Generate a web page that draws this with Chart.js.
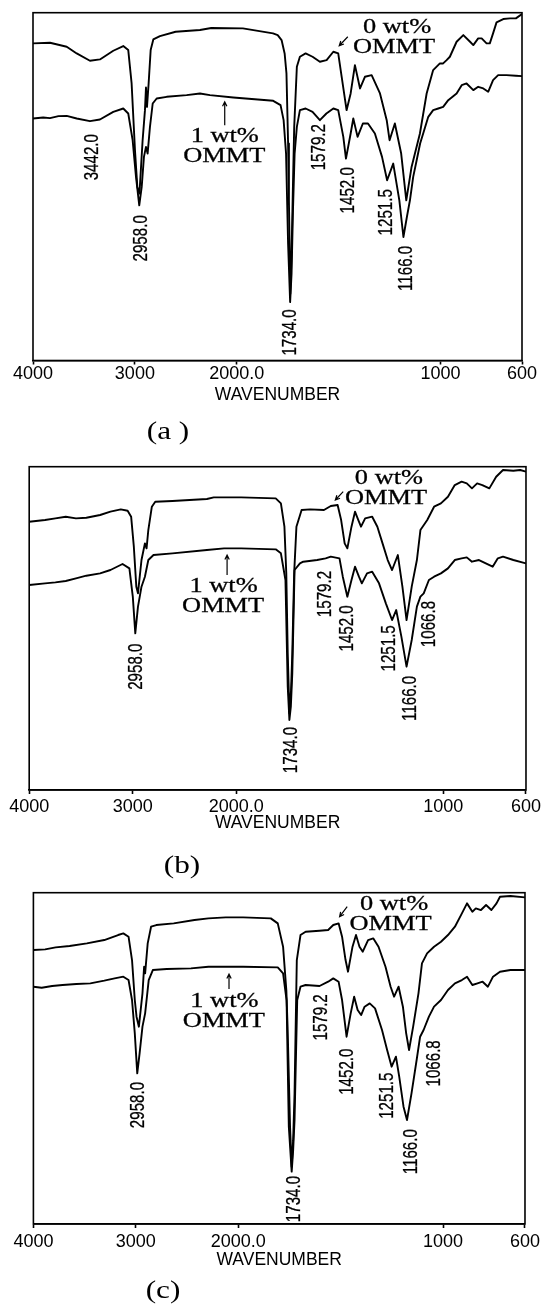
<!DOCTYPE html>
<html>
<head>
<meta charset="utf-8">
<script src="https://cdn.jsdelivr.net/npm/chart.js@4.4.1/dist/chart.umd.min.js"></script>
<style>
  html, body { margin: 0; padding: 0; background: #fff; width: 545px; height: 1308px; overflow: hidden; }
  canvas { position: absolute; left: 0; }
  .tag { position: absolute; width: 100px; text-align: center; line-height: 30px;
         font-family: "Liberation Serif", serif; font-size: 25px; color: #000; transform: scaleX(1.25); }
</style>
</head>
<body>
<canvas id="panelA" width="545" height="410" style="top:0px"></canvas>
<canvas id="panelB" width="545" height="410" style="top:440px"></canvas>
<canvas id="panelC" width="545" height="410" style="top:870px"></canvas>
<div class="tag" style="left:118px;top:416px">(a )</div>
<div class="tag" style="left:132px;top:850px">(b)</div>
<div class="tag" style="left:113px;top:1275px">(c)</div>
<script>
// x axis: wavenumber, scale doubles below 2000 cm-1
const tickWavenumbers = [4000, 3000, 2000, 1000, 600];
const tickLabels = ['4000', '3000', '2000.0', '1000', '600'];

// spectra as [wavenumber, transmittance (arb.)]
const a0 = [[4000,95.0],[3833,95.2],[3669,94.0],[3571,92.0],[3441,89.8],[3343,90.2],[3212,92.8],[3114,94.2],[3065,93.0],
  [3032,83.0],[2999,63.0],[2976,52.0],[2955,50.0],[2924,66.0],[2901,75.0],[2891,81.8],[2881,76.0],[2865,83.0],[2845,93.0],
  [2819,96.2],[2754,97.2],[2600,98.5],[2361,99.0],[2250,99.6],[1970,99.5],[1822,98.0],[1799,97.5],[1780,96.0],[1765,92.0],
  [1756,86.0],[1748,65.0],[1744,48.0],[1737,20.0],[1731,32.0],[1725,50.0],[1718,70.0],[1705,88.0],[1690,91.0],[1662,92.0],
  [1628,91.0],[1592,89.5],[1559,90.0],[1526,92.5],[1502,92.0],[1485,85.0],[1461,75.0],[1441,80.0],[1420,88.5],[1395,81.5],
  [1371,85.0],[1338,85.5],[1297,80.0],[1264,72.0],[1250,66.0],[1224,71.0],[1193,62.0],[1168,48.0],[1142,58.0],[1101,68.0],
  [1068,80.0],[1036,87.0],[1003,89.0],[987,89.0],[970,90.0],[954,91.0],[921,95.5],[888,97.5],[855,95.5],[839,94.5],
  [815,96.5],[798,96.5],[774,95.0],[758,95.0],[742,98.0],[725,101.3],[692,102.3],[659,102.5],[630,102.5],[600,103.8]];
const a1 = [[4000,72.5],[3900,72.8],[3833,72.6],[3750,73.2],[3669,73.3],[3571,72.5],[3441,71.7],[3343,72.2],[3212,74.5],
  [3114,75.5],[3065,74.0],[3022,66.0],[2989,55.0],[2957,46.5],[2933,52.0],[2911,61.0],[2891,64.0],[2875,62.0],[2852,70.0],
  [2825,77.0],[2786,78.5],[2688,79.0],[2492,79.5],[2361,80.0],[2263,79.5],[2034,78.8],[1821,77.8],[1785,76.5],[1770,72.0],
  [1758,62.0],[1748,35.0],[1738,17.5],[1731,26.0],[1724,45.0],[1716,62.0],[1705,70.0],[1690,75.0],[1662,75.5],[1628,74.5],
  [1592,72.0],[1560,74.0],[1526,75.5],[1502,75.0],[1477,67.0],[1464,60.5],[1441,68.0],[1428,72.5],[1407,67.0],[1381,71.0],
  [1356,71.0],[1322,68.0],[1287,61.0],[1262,54.0],[1232,59.0],[1202,48.0],[1182,37.0],[1165,43.0],[1150,48.0],[1134,55.0],
  [1117,60.0],[1100,65.0],[1085,68.0],[1060,73.0],[1036,75.0],[1011,75.5],[987,76.0],[962,78.0],[921,80.0],[896,82.5],
  [872,83.0],[839,81.0],[815,82.0],[790,81.5],[766,80.5],[742,84.0],[717,85.5],[676,85.5],[630,85.3],[600,85.2]];

const b0 = [[4000,80.5],[3847,81.0],[3747,81.5],[3647,82.0],[3548,81.5],[3448,81.7],[3315,82.5],[3215,83.5],[3115,84.2],
  [3049,83.8],[3015,82.0],[2989,73.0],[2965,61.0],[2949,59.0],[2915,69.0],[2882,74.0],[2866,72.5],[2849,78.0],[2815,85.0],
  [2782,86.5],[2616,86.7],[2450,87.0],[2283,87.3],[2217,87.8],[1976,87.8],[1809,87.5],[1784,86.0],[1767,79.0],[1758,65.0],
  [1751,41.0],[1743,23.0],[1735,30.0],[1729,41.0],[1720,65.0],[1709,79.0],[1684,84.0],[1643,84.2],[1576,84.0],[1543,85.2],
  [1510,85.5],[1493,81.0],[1476,74.0],[1463,72.5],[1443,79.0],[1426,83.5],[1410,81.0],[1397,79.0],[1377,81.5],[1343,82.0],
  [1318,79.0],[1293,74.0],[1268,69.0],[1247,66.0],[1219,70.5],[1197,61.0],[1177,51.0],[1152,61.0],[1127,69.0],[1110,78.0],
  [1077,81.0],[1044,85.0],[1011,86.0],[977,88.0],[944,91.5],[911,92.5],[886,92.0],[861,90.5],[836,92.0],[811,91.5],
  [777,90.5],[744,94.0],[711,96.0],[661,95.8],[628,96.0],[600,95.5]];
const b1 = [[4000,61.5],[3847,62.0],[3747,62.3],[3647,62.7],[3548,63.5],[3448,64.3],[3315,65.0],[3215,66.0],[3098,67.8],
  [3032,66.5],[2999,58.0],[2975,47.0],[2949,55.0],[2915,61.0],[2882,64.0],[2849,69.0],[2799,70.5],[2616,71.0],[2283,72.0],
  [2117,72.5],[1976,72.5],[1809,72.2],[1784,71.0],[1762,63.0],[1751,31.0],[1743,21.0],[1736,25.0],[1729,35.0],[1718,66.0],
  [1692,68.0],[1676,68.5],[1609,69.0],[1568,69.5],[1543,70.0],[1501,69.5],[1485,64.0],[1463,58.0],[1443,63.0],[1426,67.0],
  [1407,64.0],[1393,62.0],[1368,65.0],[1343,65.5],[1310,62.0],[1277,56.0],[1247,51.0],[1227,54.0],[1202,46.0],[1177,37.0],
  [1152,45.0],[1127,55.0],[1110,58.0],[1094,59.0],[1069,63.0],[1044,64.0],[1011,65.0],[977,66.5],[944,69.0],[911,69.5],
  [886,69.8],[861,68.5],[827,69.0],[794,68.0],[761,67.0],[736,69.5],[711,70.0],[661,69.0],[600,68.0]];

const c0 = [[4000,82.2],[3885,82.4],[3783,83.0],[3647,83.4],[3478,84.2],[3308,85.2],[3173,86.7],[3122,87.2],[3071,86.2],
  [3037,79.2],[3010,67.2],[2993,62.2],[2970,59.2],[2935,69.2],[2919,77.2],[2909,75.2],[2884,84.2],[2851,89.2],[2800,89.7],
  [2630,90.2],[2427,91.2],[2291,91.7],[2122,92.0],[1976,92.0],[1841,91.7],[1807,90.2],[1781,83.2],[1765,70.0],[1759,59.2],
  [1747,29.2],[1739,17.2],[1732,25.0],[1725,39.2],[1714,79.2],[1696,86.7],[1671,87.7],[1603,88.0],[1561,88.2],[1536,89.7],
  [1510,90.2],[1493,86.2],[1476,79.2],[1464,75.7],[1442,83.2],[1425,86.7],[1408,83.2],[1392,81.7],[1366,85.2],[1341,85.7],
  [1315,83.2],[1281,77.2],[1256,71.2],[1239,68.2],[1217,71.2],[1196,65.2],[1180,57.2],[1166,52.2],[1146,59.2],[1120,69.2],
  [1103,78.2],[1078,81.2],[1044,83.2],[1010,84.7],[976,86.7],[942,89.2],[908,93.2],[883,96.2],[857,93.7],[840,94.7],
  [815,94.2],[790,95.7],[764,94.2],[739,96.2],[722,98.2],[671,98.4],[600,98.0]];
const c1 = [[4000,71.2],[3919,70.9],[3817,71.4],[3715,71.7],[3580,72.0],[3444,72.2],[3308,73.0],[3207,73.7],[3122,74.2],
  [3071,73.2],[3037,67.2],[3010,57.2],[2986,45.2],[2963,51.2],[2935,59.2],[2909,63.2],[2874,73.2],[2834,76.2],[2698,76.5],
  [2461,76.7],[2291,77.2],[1976,77.2],[1807,77.0],[1781,75.2],[1764,67.2],[1753,29.2],[1739,15.7],[1732,22.0],[1725,31.2],
  [1712,67.2],[1696,71.2],[1671,71.7],[1603,71.4],[1561,72.7],[1536,73.7],[1510,72.7],[1493,67.2],[1471,56.2],[1451,63.2],
  [1434,68.2],[1417,64.2],[1400,62.7],[1383,65.2],[1358,66.2],[1332,64.7],[1298,58.2],[1273,52.2],[1251,47.2],[1230,50.2],
  [1214,44.2],[1193,35.2],[1176,31.2],[1154,39.2],[1129,49.2],[1112,56.2],[1095,58.2],[1069,62.2],[1044,65.2],[1010,67.2],
  [976,70.2],[942,72.2],[908,73.2],[883,74.2],[857,71.7],[832,72.2],[807,72.7],[781,71.2],[756,74.2],[722,75.7],
  [671,76.2],[600,76.2]];

// peak labels: [text, wavenumber, transmittance at label centre]
const peaksA = [['3442.0',3417,60.9],['2958.0',2940,36.6],['1734.0',1736,8.4],['1579.2',1593,63.9],
  ['1452.0',1454,51.0],['1251.5',1265,44.4],['1166.0',1168,27.6]];
const peaksB = [['2958.0',2965,37.0],['1734.0',1734,12.0],['1579.2',1572,58.8],['1452.0',1465,48.5],
  ['1251.5',1262,42.5],['1166.0',1160,27.5],['1066.8',1068,49.8]];
const peaksC = [['2958.0',2976,35.7],['1734.0',1725,7.5],['1579.2',1595,62.0],['1452.0',1468,45.7],
  ['1251.5',1273,38.5],['1166.0',1154,21.7],['1066.8',1044,48.2]];

// sample notes: [text, wavenumber, transmittance at baseline]
const notesA = [['0 wt%',1213,98.2],['OMMT',1228,92.2],['1 wt%',2118,65.5],['OMMT',2122,59.5]];
const notesB = [['0 wt%',1262,91.8],['OMMT',1276,85.8],['1 wt%',2122,59.5],['OMMT',2126,53.5]];
const notesC = [['0 wt%',1239,94.2],['OMMT',1256,88.2],['1 wt%',2135,65.2],['OMMT',2140,59.2]];
// arrows: [from w, from t, to w, to t]
const arrowsA = [[1455,97.0,1497,94.3],[2118,70.5,2118,77.5]];
const arrowsB = [[1483,89.5,1521,87.0],[2088,64.5,2088,70.5]];
const arrowsC = [[1468,95.2,1505,92.2],[2090,70.5,2090,75.0]];

function toAxis(w) {
  return w >= 2000 ? (4000 - w) / 1000 : 2 + (2000 - w) / 500;
}

const framePlugin = {
  id: 'frame',
  afterDatasetsDraw(chart) {
    const {ctx, chartArea: a} = chart;
    ctx.save();
    ctx.strokeStyle = '#000';
    ctx.lineWidth = 1.6;
    ctx.strokeRect(a.left, a.top, a.right - a.left, a.bottom - a.top);
    ctx.restore();
  }
};

function notesPlugin(peaks, notes, arrows) {
  return {
    id: 'notes',
    afterDatasetsDraw(chart) {
      const ctx = chart.ctx;
      const xs = chart.scales.x, ys = chart.scales.y;
      const px = w => xs.getPixelForValue(toAxis(w));
      const py = t => ys.getPixelForValue(t);
      ctx.save();
      ctx.fillStyle = '#000';
      ctx.strokeStyle = '#000';
      ctx.font = '21px "Liberation Sans"';
      ctx.textAlign = 'center';
      ctx.textBaseline = 'middle';
      ctx.lineWidth = 0.3;
      peaks.forEach(([text, w, t]) => {
        ctx.save();
        ctx.translate(px(w), py(t));
        ctx.rotate(-Math.PI / 2);
        ctx.scale(0.72, 1);
        ctx.fillText(text, 0, 0);
        ctx.strokeText(text, 0, 0);
        ctx.restore();
      });
      ctx.font = '22px "Liberation Serif"';
      ctx.textBaseline = 'alphabetic';
      ctx.lineWidth = 0.3;
      notes.forEach(([text, w, t]) => {
        ctx.save();
        ctx.translate(px(w), py(t));
        ctx.scale(1.2, 1);
        ctx.fillText(text, 0, 0);
        ctx.strokeText(text, 0, 0);
        ctx.restore();
      });
      ctx.lineWidth = 1.2;
      arrows.forEach(([w1, t1, w2, t2]) => {
        const x1 = px(w1), y1 = py(t1), x2 = px(w2), y2 = py(t2);
        const ang = Math.atan2(y2 - y1, x2 - x1);
        ctx.beginPath();
        ctx.moveTo(x1, y1);
        ctx.lineTo(x2, y2);
        ctx.moveTo(x2 - 5 * Math.cos(ang - 0.45), y2 - 5 * Math.sin(ang - 0.45));
        ctx.lineTo(x2, y2);
        ctx.lineTo(x2 - 5 * Math.cos(ang + 0.45), y2 - 5 * Math.sin(ang + 0.45));
        ctx.stroke();
      });
      ctx.restore();
    }
  };
}

function makePanel(id, p) {
  return new Chart(document.getElementById(id), {
    type: 'line',
    data: {
      datasets: p.series.map(s => ({
        data: s.map(([w, t]) => ({x: toAxis(w), y: t})),
        borderColor: '#000',
        borderWidth: 1.9,
        borderJoinStyle: 'round',
        pointRadius: 0,
        tension: 0,
        fill: false
      }))
    },
    options: {
      responsive: false,
      animation: false,
      events: [],
      layout: {padding: {left: p.left, right: 545 - p.right, top: p.top, bottom: p.padBottom}},
      plugins: {legend: {display: false}, tooltip: {enabled: false}},
      scales: {
        x: {
          type: 'linear',
          min: 0,
          max: 4.8,
          afterBuildTicks: axis => {
            axis.ticks = tickWavenumbers.map(w => ({value: toAxis(w)}));
          },
          ticks: {
            autoSkip: false,
            maxRotation: 0,
            padding: p.tickPad,
            color: '#000',
            font: {family: 'Liberation Sans', size: 18, lineHeight: 1},
            callback: (v, i) => tickLabels[i]
          },
          grid: {display: true, drawOnChartArea: false, drawTicks: true, tickLength: 4, tickWidth: 1.6, tickColor: '#000'},
          border: {display: true, color: '#000', width: 1.6},
          title: {
            display: true,
            text: 'WAVENUMBER',
            color: '#000',
            font: {family: 'Liberation Sans', size: 17.5, lineHeight: 1},
            padding: {top: p.titlePad, bottom: 0}
          }
        },
        y: {display: false, min: 0, max: p.yMax}
      }
    },
    plugins: [framePlugin, notesPlugin(p.peaks, p.notes, p.arrows)]
  });
}

makePanel('panelA', {series: [a0, a1], yMax: 104.2, left: 33, right: 522, top: 12.7, padBottom: 6.5,
  tickPad: 1, titlePad: 1.5, peaks: peaksA, notes: notesA, arrows: arrowsA});
makePanel('panelB', {series: [b0, b1], yMax: 97.0, left: 29.2, right: 530.8, top: 26.7, padBottom: 18.5,
  tickPad: 4, titlePad: -6, peaks: peaksB, notes: notesB, arrows: arrowsB});
makePanel('panelC', {series: [c0, c1], yMax: 99.4, left: 33.4, right: 525.6, top: 22.7, padBottom: 11.5,
  tickPad: 5, titlePad: -5, peaks: peaksC, notes: notesC, arrows: arrowsC});
</script>
</body>
</html>
